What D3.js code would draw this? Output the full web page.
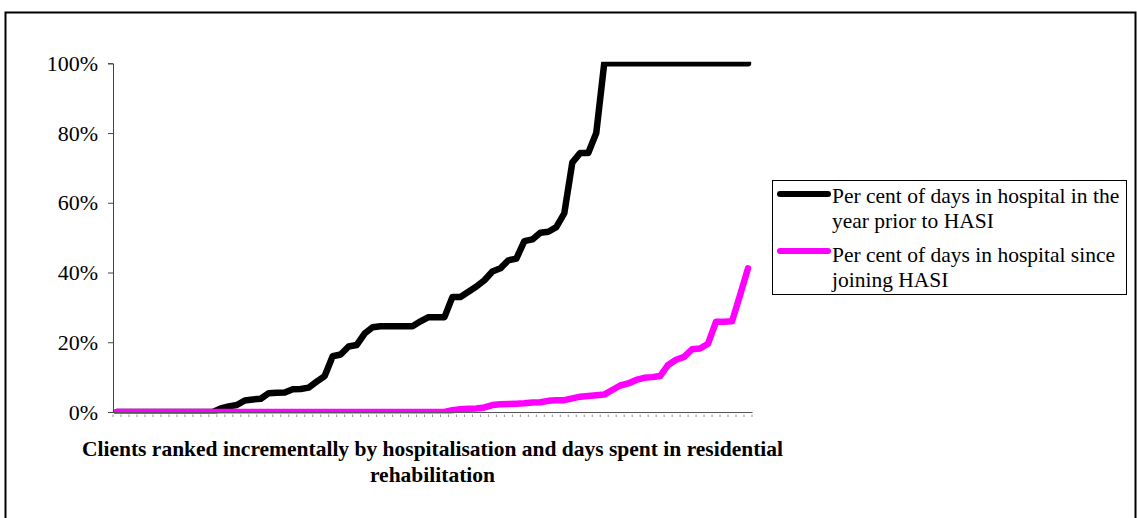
<!DOCTYPE html>
<html>
<head>
<meta charset="utf-8">
<script src="https://cdn.jsdelivr.net/npm/d3@7"></script>
<style>
  html, body { margin: 0; padding: 0; background: #fff; }
  svg { display: block; }
  text { font-family: "Liberation Serif", "Times New Roman", serif; }
</style>
</head>
<body>
<svg id="chart" width="1137" height="518"></svg>
<script>
// ---- Data ----
const seriesNames = [
  "Per cent of days in hospital in the year prior to HASI",
  "Per cent of days in hospital since joining HASI"
];
const legendLines = [
  ["Per cent of days in hospital in the", "year prior to HASI"],
  ["Per cent of days in hospital since", "joining HASI"]
];
// 80 clients, ranked
const priorToHASI = [
  0, 0, 0, 0, 0, 0, 0, 0, 0, 0,
  0, 0, 0, 1.0, 1.6, 2.0, 3.3, 3.6, 3.8, 5.4,
  5.5, 5.6, 6.5, 6.6, 7.0, 8.7, 10.3, 16.0, 16.5, 18.8,
  19.2, 22.5, 24.3, 24.6, 24.6, 24.6, 24.6, 24.6, 26.0, 27.2,
  27.2, 27.2, 33.0, 33.0, 34.5, 36.0, 37.8, 40.3, 41.2, 43.5,
  44.0, 49.0, 49.5, 51.4, 51.7, 53.0, 57.0, 71.5, 74.3, 74.3,
  80.0, 100, 100, 100, 100, 100, 100, 100, 100, 100,
  100, 100, 100, 100, 100, 100, 100, 100, 100, 100
];
const sinceHASI = [
  0, 0, 0, 0, 0, 0, 0, 0, 0, 0,
  0, 0, 0, 0, 0, 0, 0, 0, 0, 0,
  0, 0, 0, 0, 0, 0, 0, 0, 0, 0,
  0, 0, 0, 0, 0, 0, 0, 0, 0, 0,
  0, 0, 0.5, 0.8, 0.9, 1.0, 1.3, 2.0, 2.2, 2.3,
  2.4, 2.5, 2.7, 2.8, 3.2, 3.4, 3.4, 3.9, 4.4, 4.6,
  4.8, 5.0, 6.3, 7.6, 8.2, 9.2, 9.8, 10.0, 10.3, 13.5,
  15.0, 15.8, 18.0, 18.2, 19.6, 25.9, 25.9, 26.0, 33.5, 41.2
];
const yTicks = [0, 0.2, 0.4, 0.6, 0.8, 1.0];
const xTitleLines = [
  "Clients ranked incrementally by hospitalisation and days spent in residential",
  "rehabilitation"
];
const colors = ["#000000", "#FF00FF"];

// ---- Layout ----
const svg = d3.select("#chart");
const plot = { left: 113, right: 752, top: 63.3, bottom: 412 };
const n = priorToHASI.length;

const x = d3.scaleLinear().domain([-0.5, n - 0.5]).range([plot.left, plot.right]);
const y = d3.scaleLinear().domain([0, 1]).range([plot.bottom, plot.top]);

// outer frame
svg.append("rect")
  .attr("x", 5.5).attr("y", 12.5)
  .attr("width", 1130).attr("height", 520)
  .attr("fill", "none").attr("stroke", "#000").attr("stroke-width", 2);

// clip
svg.append("defs").append("clipPath").attr("id", "clip")
  .append("rect")
  .attr("x", plot.left).attr("y", plot.top - 1.5)
  .attr("width", plot.right - plot.left).attr("height", plot.bottom - plot.top + 3);

// y axis
const yAxis = svg.append("g")
  .attr("transform", `translate(${plot.left},0)`)
  .call(d3.axisLeft(y).tickValues(yTicks).tickFormat(d3.format(".0%")).tickSize(5).tickPadding(10));
yAxis.select(".domain").attr("stroke", "#444");
yAxis.selectAll(".tick line").attr("stroke", "#444");
yAxis.selectAll(".tick text")
  .attr("font-family", "'Liberation Serif', 'Times New Roman', serif")
  .attr("font-size", 22).attr("fill", "#000");

// x axis small tick marks (category boundaries)
const xTickVals = d3.range(0, n + 1).map(i => i - 0.5);
const xAxis = svg.append("g")
  .attr("transform", `translate(0,${plot.bottom})`)
  .call(d3.axisBottom(x).tickValues(xTickVals).tickFormat("").tickSize(0).tickSizeOuter(0));
xAxis.select(".domain").attr("stroke", "#444");
const xt = svg.append("g");
xt.selectAll("line.tk").data(xTickVals).join("line")
  .attr("class", "tk")
  .attr("x1", d => x(d)).attr("x2", d => x(d))
  .attr("y1", plot.bottom + 2.5).attr("y2", plot.bottom + 5)
  .attr("stroke", "#999").attr("stroke-width", 1);

// lines
const line = d3.line().x((d, i) => x(i)).y(d => y(d / 100));
const g = svg.append("g").attr("clip-path", "url(#clip)");
[priorToHASI, sinceHASI].forEach((s, k) => {
  g.append("path")
    .datum(s)
    .attr("d", line)
    .attr("fill", "none")
    .attr("stroke", colors[k])
    .attr("stroke-width", 6.5)
    .attr("stroke-linejoin", "round")
    .attr("stroke-linecap", "round");
});
// axis line on top
svg.append("line")
  .attr("x1", plot.left).attr("x2", plot.right)
  .attr("y1", plot.bottom + 0.5).attr("y2", plot.bottom + 0.5)
  .attr("stroke", "#555").attr("stroke-width", 1);

// x title
const xt2 = svg.append("text")
  .attr("text-anchor", "middle")
  .attr("font-weight", "bold")
  .attr("font-size", 21.5)
  .attr("fill", "#000");
xTitleLines.forEach((t, i) => {
  xt2.append("tspan").attr("x", (plot.left + plot.right) / 2).attr("y", 456 + i * 26).text(t);
});

// legend
const lg = svg.append("g");
lg.append("rect")
  .attr("x", 772.5).attr("y", 180.5).attr("width", 354).attr("height", 114)
  .attr("fill", "#fff").attr("stroke", "#000").attr("stroke-width", 1);
const legendY = [194, 251];
const textY = [[203, 228], [262, 287]];
seriesNames.forEach((name, k) => {
  lg.append("line")
    .attr("x1", 780).attr("x2", 828)
    .attr("y1", legendY[k]).attr("y2", legendY[k])
    .attr("stroke", colors[k]).attr("stroke-width", 6).attr("stroke-linecap", "round");
  const t = lg.append("text").attr("font-size", 21.5).attr("fill", "#000");
  legendLines[k].forEach((l, j) => {
    t.append("tspan").attr("x", 832).attr("y", textY[k][j]).text(l);
  });
});
</script>
</body>
</html>
